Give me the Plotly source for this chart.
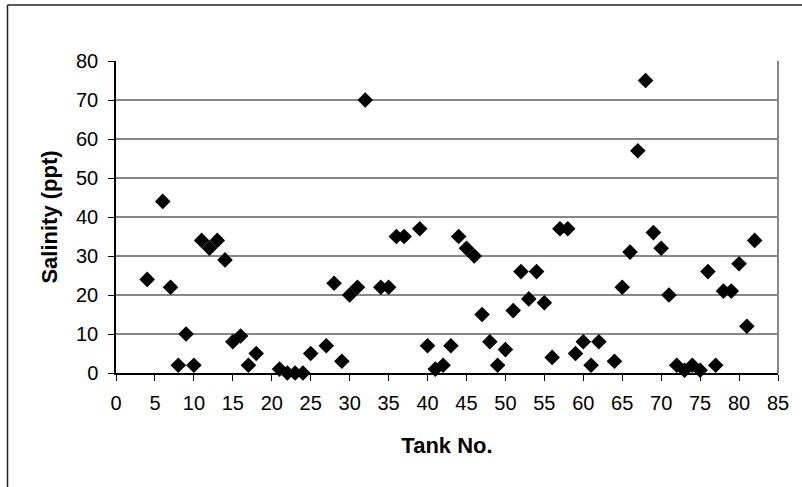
import plotly.graph_objects as go

# Salinity readings per tank
tank_no = [4, 6, 7, 8, 9, 10, 11, 12, 13, 14, 15, 16, 17, 18, 21, 22, 23, 24, 25,
           27, 28, 29, 30, 31, 32, 34, 35, 36, 37, 39, 40, 41, 42, 43, 44, 45, 46,
           47, 48, 49, 50, 51, 52, 53, 54, 55, 56, 57, 58, 59, 60, 61, 62, 64, 65,
           66, 67, 68, 69, 70, 71, 72, 73, 74, 75, 76, 77, 78, 79, 80, 81, 82]
salinity = [24, 44, 22, 2, 10, 2, 34, 32, 34, 29, 8, 9.5, 2, 5, 1, 0, 0, 0, 5,
            7, 23, 3, 20, 22, 70, 22, 22, 35, 35, 37, 7, 1, 2, 7, 35, 32, 30,
            15, 8, 2, 6, 16, 26, 19, 26, 18, 4, 37, 37, 5, 8, 2, 8, 3, 22,
            31, 57, 75, 36, 32, 20, 2, 0.7, 2, 0.7, 26, 2, 21, 21, 28, 12, 34]

x_ticks = list(range(0, 90, 5))
y_ticks = list(range(0, 90, 10))

W, H = 802, 487
L, R, T, B = 116, 24, 61, 114
pw, ph = W - L - R, H - T - B

def px_x(p):
    return (p - L) / pw

def px_y(p):
    return (H - B - p) / ph

FONT = "Liberation Sans, Arial, sans-serif"

fig = go.Figure()
fig.add_trace(go.Scatter(
    x=tank_no, y=salinity, mode="markers",
    marker=dict(symbol="diamond", size=12, color="black", line=dict(width=0)),
    cliponaxis=False, showlegend=False,
))

fig.update_layout(
    width=W, height=H,
    margin=dict(l=L, r=R, t=T, b=B),
    paper_bgcolor="white", plot_bgcolor="white",
    font=dict(family=FONT, color="black"),
    xaxis=dict(
        range=[0, 85], tickvals=x_ticks, ticktext=[str(v) for v in x_ticks],
        showgrid=False, zeroline=False,
        showline=True, linecolor="black", linewidth=1.5,
        ticks="outside", ticklen=6, tickwidth=1, tickcolor="black",
        tickfont=dict(size=20, family=FONT), ticklabelstandoff=5,
        title=dict(text="<b>Tank No.</b>", font=dict(size=22, family=FONT), standoff=25),
    ),
    yaxis=dict(
        range=[0, 80], tickvals=y_ticks, ticktext=[str(v) for v in y_ticks],
        showgrid=True, gridcolor="#878787", gridwidth=1.5, zeroline=False,
        showline=True, linecolor="black", linewidth=1.5,
        ticks="outside", ticklen=6, tickwidth=1, tickcolor="black",
        tickfont=dict(size=20, family=FONT), ticklabelstandoff=6,
        title=dict(text="<b>Salinity (ppt)</b>", font=dict(size=22, family=FONT), standoff=12),
    ),
    shapes=[
        # right edge of the plot area
        dict(type="line", xref="paper", yref="paper", x0=1, x1=1, y0=0, y1=1,
             line=dict(color="#878787", width=2)),
        # outer chart frame (left and top)
        dict(type="line", xref="paper", yref="paper",
             x0=px_x(7.5), x1=px_x(7.5), y0=px_y(H + 2), y1=px_y(5),
             line=dict(color="#222222", width=1.5)),
        dict(type="line", xref="paper", yref="paper",
             x0=px_x(7.5), x1=px_x(W + 2), y0=px_y(5), y1=px_y(5),
             line=dict(color="#222222", width=1.5)),
    ],
)

fig.write_html("out.html")
